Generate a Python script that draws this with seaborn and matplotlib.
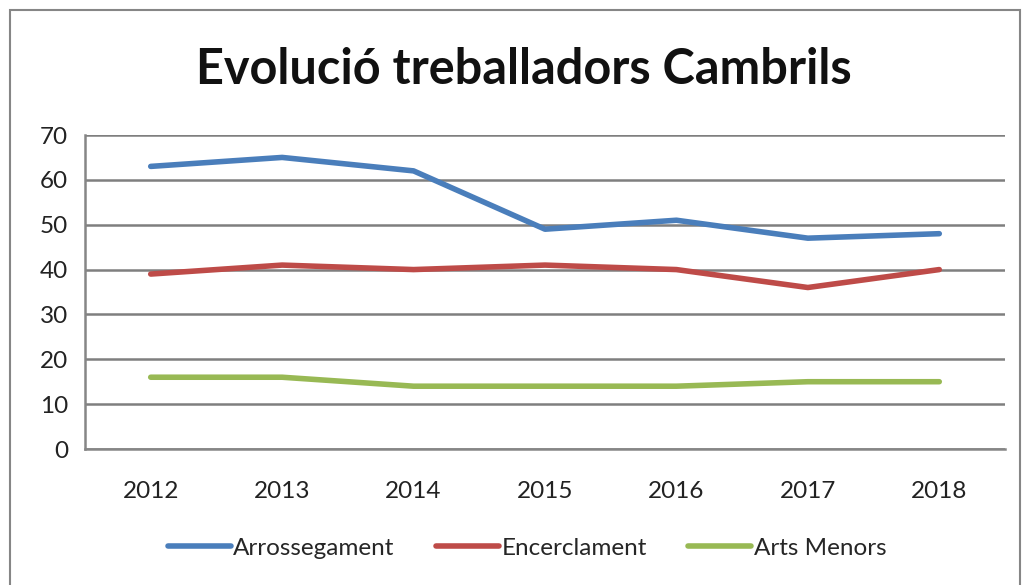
import matplotlib
matplotlib.use("Agg")
import matplotlib.pyplot as plt
import seaborn as sns
import pandas as pd
import numpy as np

years = ["2012", "2013", "2014", "2015", "2016", "2017", "2018"]
arrossegament = [63, 65, 62, 49, 51, 47, 48]
encerclament = [39, 41, 40, 41, 40, 36, 40]
arts_menors = [16, 16, 14, 14, 14, 15, 15]
series_names = ["Arrossegament", "Encerclament", "Arts Menors"]
colors = ["#4A7EBB", "#BE4B48", "#98B954"]
yticks = [0, 10, 20, 30, 40, 50, 60, 70]

sns.set_theme(style="white")
plt.rcParams["font.family"] = ["Lato", "DejaVu Sans"]

rows = []
for name, vals in zip(series_names, [arrossegament, encerclament, arts_menors]):
    for i, v in enumerate(vals):
        rows.append({"pos": i, "year": years[i], "value": v, "serie": name})
df = pd.DataFrame(rows)

fig = plt.figure(figsize=(10.24, 5.85), dpi=100)
ax = fig.add_axes([85/1024, 1-449/585, 920/1024, (449-135)/585])

sns.lineplot(data=df, x="pos", y="value", hue="serie", palette=colors,
             hue_order=series_names, linewidth=4.0, ax=ax, legend=True,
             solid_capstyle="round", solid_joinstyle="round")

ax.set_xlim(-0.5, 6.5)
ax.set_ylim(0, 70)
ax.set_yticks(yticks)
ax.set_yticklabels([str(t) for t in yticks], fontsize=17.5, color="#222222")
ax.set_xticks(range(len(years)))
ax.set_xticklabels(years, fontsize=17.5, color="#222222")
ax.set_xticks(np.arange(-0.5, 7, 1.0), minor=True)
ax.tick_params(axis="x", which="major", length=0, pad=23)
ax.tick_params(axis="x", which="minor", length=7, width=1.6, color="#868686", direction="out")
ax.tick_params(axis="y", which="major", length=7, width=1.6, color="#868686", direction="out", pad=5)
ax.grid(axis="y", color="#7F7F7F", linewidth=1.8)
ax.set_axisbelow(True)
for s in ["top", "right"]:
    ax.spines[s].set_visible(False)
for s in ["left", "bottom"]:
    ax.spines[s].set_color("#868686")
    ax.spines[s].set_linewidth(1.8)
ax.set_xlabel("")
ax.set_ylabel("")

handles, labels = ax.get_legend_handles_labels()
ax.legend_.remove()
fig.legend(handles, labels, loc="center", bbox_to_anchor=(527/1024, 1-548/585),
           ncol=3, frameon=False, fontsize=17.5, handlelength=2.6, handletextpad=0.1,
           columnspacing=1.7)

fig.text(524/1024, 1-70/585, "Evolució treballadors Cambrils", ha="center", va="center",
         fontsize=35, fontweight="bold", color="#111111")

border = plt.Rectangle((10/1024, -0.01), 1010/1024, 1-10/585+0.01, transform=fig.transFigure,
                       fill=False, edgecolor="#868686", linewidth=1.5)
fig.patches.append(border)

fig.savefig("out.png", dpi=100, facecolor="white")
